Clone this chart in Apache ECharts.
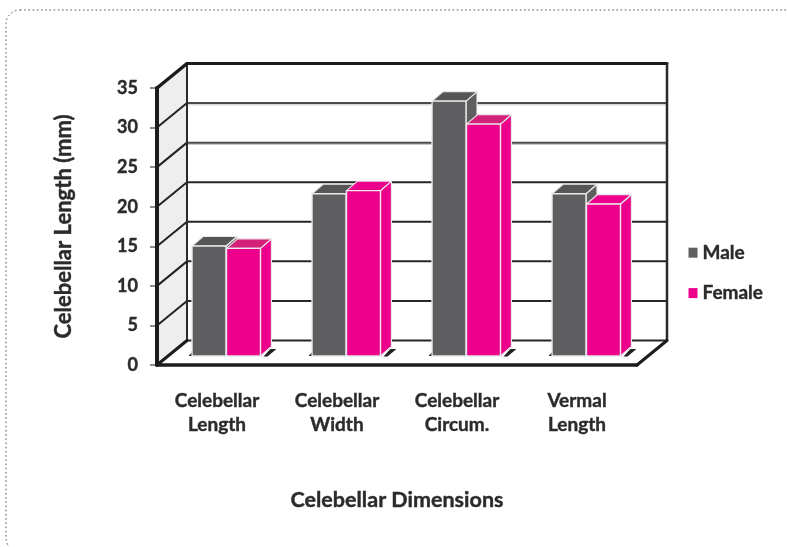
<!DOCTYPE html>
<html>
<head>
<meta charset="utf-8">
<style>html,body{margin:0;padding:0;background:#fff}#chart{width:788px;height:547px}</style>
<script src="https://cdn.jsdelivr.net/npm/echarts@6/dist/echarts.min.js"></script>
</head>
<body>
<div id="chart"></div>
<script>
// Cerebellar measurements by sex, in millimetres
const categories = ['Celebellar\nLength', 'Celebellar\nWidth', 'Celebellar\nCircum.', 'Vermal\nLength'];
const maleValues = [13.9, 20.5, 32.2, 20.5];
const femaleValues = [13.6, 20.9, 29.3, 19.2];
const yTicks = [0, 5, 10, 15, 20, 25, 30, 35];

const FONT = 'Lato, "Open Sans", sans-serif';
const INK = '#2b2b2b';
const FRAME = '#1c1c1c';
const GREY = '#5f5f61';
const GREY_TOP = '#565658';
const PINK = '#ec008c';
const PINK_TOP_DARK = '#d4217a';
const EDGE = '#e9e9e9';

// Bold label styling with a hairline outline to thicken the glyphs
function boldText(size) {
  return { fontFamily: FONT, fontWeight: 'bold', fontSize: size, color: INK, textBorderColor: INK, textBorderWidth: 0.4 };
}

// Chart box depth: how far the back wall sits behind the front plane
const BOX_DX = 30, BOX_DY = -24.5;
// Where the bars stand inside the box, and their own depth
const BAR_DX = 9, BAR_DY = -9, DEPTH_DX = 11, DEPTH_DY = -9.5;

function poly(points, fill, stroke, lineWidth) {
  return {
    type: 'polygon',
    shape: { points: points },
    style: { fill: fill, stroke: stroke || null, lineWidth: lineWidth || 0, lineJoin: 'round' }
  };
}
function line(x1, y1, x2, y2, color, width) {
  return {
    type: 'line',
    shape: { x1: x1, y1: y1, x2: x2, y2: y2 },
    style: { stroke: color, lineWidth: width, lineCap: 'round' }
  };
}

// Left wall and the gridlines that run across it and along the back wall
function renderGridLine(params, api) {
  const box = params.coordSys;
  const y = api.coord([0, api.value(1)])[1];
  const left = box.x, right = box.x + box.width;
  const tick = api.value(1);
  const kids = [];
  if (tick > 0 && tick < 35) {
    kids.push(line(left, y, left + BOX_DX, y + BOX_DY, '#222', 2));
  }
  if (tick < 35) {
    const shade = tick >= 25 ? '#4a4a4a' : '#262626';
    if (tick >= 25) kids.push(line(left + BOX_DX, y + BOX_DY + 1.8, right + BOX_DX, y + BOX_DY + 1.8, '#c4c4c4', 1));
    kids.push(line(left + BOX_DX, y + BOX_DY, right + BOX_DX, y + BOX_DY, shade, 2));
  }
  return { type: 'group', children: kids };
}

function renderWall(params, api) {
  const box = params.coordSys;
  const l = box.x, t = box.y, b = box.y + box.height;
  return poly([[l, b], [l, t], [l + BOX_DX, t + BOX_DY], [l + BOX_DX, b + BOX_DY]], '#eeeeee');
}

// Heavy outline of the box
function renderFrame(params) {
  const box = params.coordSys;
  const l = box.x, r = box.x + box.width, t = box.y, b = box.y + box.height;
  return {
    type: 'group',
    children: [
      line(l + BOX_DX, t + BOX_DY, r + BOX_DX, t + BOX_DY, FRAME, 3),
      line(r + BOX_DX, t + BOX_DY, r + BOX_DX, b + BOX_DY, '#2a2a2a', 2.5),
      line(l + BOX_DX, t + BOX_DY, l + BOX_DX, b + BOX_DY, '#2a2a2a', 2),
      line(l, b, l + BOX_DX, b + BOX_DY, FRAME, 3),
      line(r, b, r + BOX_DX, b + BOX_DY, FRAME, 3),
      line(l, t, l + BOX_DX, t + BOX_DY, FRAME, 3.5),
      line(l, t, l, b, FRAME, 4),
      line(l, b, r, b, FRAME, 3.5)
    ]
  };
}

// One extruded bar; side = -1 sits left of the category centre, +1 right of it
function barRenderer(side, fill, topFill) {
  return function (params, api) {
    const idx = api.value(0);
    const top = api.coord([idx, api.value(1)]);
    const base = api.coord([idx, 0]);
    const w = api.size([1, 0])[0] * 0.283;
    const mid = base[0] + BAR_DX;
    const x0 = side < 0 ? mid - w : mid + 0.5;
    const x1 = x0 + w;
    const yT = top[1] + BAR_DY, yB = base[1] + BAR_DY;
    const kids = [];
    if (side < 0) {
      kids.push(poly([[x0 - 3.5, yB], [x0, yB], [x0, yB - 4]], '#222'));
    } else {
      kids.push(poly([[x1 + 3, yB + 0.5], [x1 + 7, yB + 0.5], [x1 + 16, yB - 7], [x1 + 10, yB - 7]], '#222'));
    }
    const roof = typeof topFill === 'function' ? topFill(params.dataIndex) : topFill;
    kids.push(poly([[x1, yT], [x1 + DEPTH_DX, yT + DEPTH_DY], [x1 + DEPTH_DX, yB + DEPTH_DY], [x1, yB]], fill, EDGE, 1.2));
    kids.push(poly([[x0, yT], [x0 + DEPTH_DX, yT + DEPTH_DY], [x1 + DEPTH_DX, yT + DEPTH_DY], [x1, yT]], roof, EDGE, 1.2));
    kids.push({
      type: 'rect',
      shape: { x: x0, y: yT, width: w, height: yB - yT },
      style: { fill: fill, stroke: EDGE, lineWidth: 1.4 }
    });
    return { type: 'group', children: kids };
  };
}

const tickData = yTicks.map(function (t) { return [0, t]; });
const chart = echarts.init(document.getElementById('chart'), null, { renderer: 'canvas' });

chart.setOption({
  animation: false,
  backgroundColor: '#ffffff',
  grid: { left: 157, right: 151, top: 88, bottom: 182 },
  xAxis: {
    type: 'category',
    data: categories,
    name: 'Celebellar Dimensions',
    nameLocation: 'middle',
    nameGap: 124,
    nameTextStyle: boldText(21.5),
    axisLine: { show: false },
    axisTick: { show: false },
    axisLabel: Object.assign(boldText(19), { margin: 24, lineHeight: 24, interval: 0 })
  },
  yAxis: {
    type: 'value',
    min: 0,
    max: 35,
    interval: 5,
    name: 'Celebellar Length (mm)',
    nameLocation: 'middle',
    nameGap: 82,
    nameTextStyle: boldText(22),
    axisLine: { show: false },
    axisTick: { show: true, length: 7, lineStyle: { color: '#666', width: 1.5 } },
    axisLabel: Object.assign(boldText(18), { margin: 19 }),
    splitLine: { show: false }
  },
  legend: {
    orient: 'vertical',
    left: 683.5,
    top: 238,
    icon: 'rect',
    itemWidth: 9,
    itemHeight: 10,
    itemGap: 21,
    data: ['Male', 'Female'],
    textStyle: boldText(19)
  },
  graphic: [{
    type: 'rect',
    silent: true,
    z: -1,
    shape: { x: 6, y: 10, width: 840, height: 542, r: 14 },
    style: { fill: null, stroke: '#555', lineWidth: 1, lineDash: [1.6, 2.6] }
  }],
  series: [
    { type: 'custom', coordinateSystem: 'cartesian2d', clip: false, silent: true, data: [[0, 0]], encode: { x: 0, y: 1 }, renderItem: renderWall },
    { type: 'custom', coordinateSystem: 'cartesian2d', clip: false, silent: true, data: tickData, encode: { x: 0, y: 1 }, renderItem: renderGridLine },
    { type: 'custom', coordinateSystem: 'cartesian2d', clip: false, silent: true, data: [[0, 0]], encode: { x: 0, y: 1 }, renderItem: renderFrame },
    {
      type: 'custom', name: 'Male', coordinateSystem: 'cartesian2d', clip: false,
      itemStyle: { color: GREY },
      data: maleValues.map(function (v, i) { return [i, v]; }),
      encode: { x: 0, y: 1 },
      renderItem: barRenderer(-1, GREY, GREY_TOP)
    },
    {
      type: 'custom', name: 'Female', coordinateSystem: 'cartesian2d', clip: false,
      itemStyle: { color: PINK },
      data: femaleValues.map(function (v, i) { return [i, v]; }),
      encode: { x: 0, y: 1 },
      renderItem: barRenderer(1, PINK, function (i) { return i % 2 === 0 ? PINK_TOP_DARK : PINK; })
    }
  ]
});
</script>
</body>
</html>
